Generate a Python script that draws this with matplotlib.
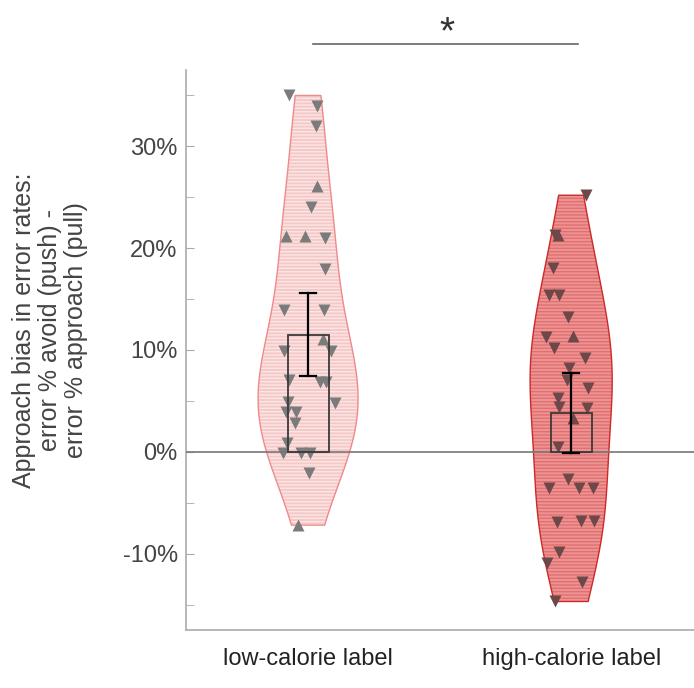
import matplotlib
matplotlib.use("Agg")
import matplotlib.pyplot as plt
from matplotlib.patches import Rectangle
import numpy as np

# categories and read-off values (percent)
categories = ["low-calorie label", "high-calorie label"]
positions = [1, 2]

low_vals = [35.0, 34.0, 32.0, 26.1, 24.0, 21.2, 21.2, 21.0, 18.0, 13.9, 13.9, 11.1, 9.9, 9.9,
            7.1, 6.9, 6.9, 4.8, 4.9, 3.9, 3.9, 2.8, 0.9, -0.1, -0.1, -0.1, -2.1, -7.2]
low_jit = [-0.072, 0.034, 0.030, 0.034, 0.011, -0.084, -0.011, 0.065, 0.065, -0.091, 0.061, 0.057,
           -0.091, 0.087, -0.072, 0.046, 0.068, 0.103, -0.076, -0.084, -0.046, -0.049, -0.080,
           -0.095, -0.027, 0.008, 0.004, -0.038]
low_mark = ["v", "v", "v", "^", "v", "^", "^", "v", "v", "v", "v", "^", "v", "v",
            "v", "v", "v", "v", "v", "v", "v", "v", "v", "v", "v", "v", "v", "^"]

high_vals = [25.2, 21.3, 21.3, 18.1, 15.4, 15.4, 13.2, 11.3, 11.4, 10.2, 9.2, 8.2, 7.1, 6.3, 5.3,
             4.4, 4.3, 3.3, 0.5, -2.7, -3.6, -3.6, -3.6, -6.9, -6.8, -6.8, -9.8, -10.9, -12.8, -14.7]
high_jit = [0.057, -0.061, -0.049, -0.068, -0.084, -0.046, -0.011, -0.095, 0.008, -0.065, 0.053,
            -0.008, -0.015, 0.065, -0.049, -0.046, 0.061, 0.008, -0.049, -0.011, -0.084, 0.030,
            0.084, -0.053, 0.038, 0.087, -0.046, -0.091, 0.042, -0.061]
high_mark = ["v", "v", "^", "v", "v", "v", "v", "v", "^", "v", "v", "v", "v", "v", "v",
             "v", "v", "^", "v", "v", "v", "v", "v", "v", "v", "v", "v", "v", "v", "v"]

means = [11.5, 3.8]
ci_low = [7.4, -0.1]
ci_high = [15.6, 7.7]

plt.rcParams['font.family'] = ['Liberation Sans', 'DejaVu Sans']


def kde(vals, grid, bw):
    v = np.asarray(vals)
    d = np.exp(-0.5 * ((grid[:, None] - v[None, :]) / bw) ** 2).sum(axis=1)
    return d / d.max()


def main():
    fig = plt.figure(figsize=(6.94, 6.88), dpi=100)
    ax = fig.add_axes([186 / 694, 58 / 688, 1 - 186 / 694, 560 / 688])

    groups = [(low_vals, low_jit, low_mark), (high_vals, high_jit, high_mark)]
    fills = ["#f6c9c9", "#ee9393"]
    stripes = ["#fbe6e6", "#e07070"]
    edges = ["#ef8a8a", "#cc2a2a"]
    mcols = ["#7b7b7b", "#6e4848"]
    widths = [0.19, 0.156]
    bws = [6.0, 6.0]

    for i, (vals, jit, mk) in enumerate(groups):
        c = positions[i]
        yy = np.linspace(min(vals), max(vals), 300)
        w = kde(vals, yy, bws[i]) * widths[i]
        ax.fill_betweenx(yy, c - w, c + w, facecolor=fills[i], edgecolor="none", zorder=1)
        ax.fill_betweenx(yy, c - w, c + w, facecolor="none", edgecolor=stripes[i],
                         hatch="-----", lw=0, zorder=1.5)
        ax.fill_betweenx(yy, c - w, c + w, facecolor="none", edgecolor=edges[i], lw=1.0, zorder=2)

        for v, j, m in zip(vals, jit, mk):
            ax.plot(c + j, v, marker=m, ms=8, color=mcols[i], mec="none", ls="none", zorder=3)

        ax.add_patch(Rectangle((c - 0.078, 0), 0.156, means[i], facecolor="none",
                               edgecolor="#3a3a3a", lw=1.3, zorder=4))
        ax.plot([c, c], [ci_low[i], ci_high[i]], color="black", lw=1.6, zorder=5)
        ax.plot([c - 0.03, c + 0.03], [ci_low[i]] * 2, color="black", lw=1.6, zorder=5)
        ax.plot([c - 0.03, c + 0.03], [ci_high[i]] * 2, color="black", lw=1.6, zorder=5)

    ax.axhline(0, color="#777777", lw=1.2, zorder=3.5)

    ax.set_xlim(0.536, 2.467)
    ax.set_ylim(-17.5, 37.5)
    ax.set_yticks([-10, 0, 10, 20, 30])
    ax.set_yticklabels([f"{t}%" for t in [-10, 0, 10, 20, 30]])
    ax.set_yticks([-15, -5, 5, 15, 25, 35], minor=True)
    ax.set_xticks(positions)
    ax.set_xticklabels(categories)

    for s in ["top", "right"]:
        ax.spines[s].set_visible(False)
    for s in ["left", "bottom"]:
        ax.spines[s].set_color("#aaaaaa")
        ax.spines[s].set_linewidth(1.2)
    ax.tick_params(axis="y", which="both", direction="in", length=6, color="#aaaaaa",
                   labelsize=17, labelcolor="#444444", pad=6)
    ax.tick_params(axis="x", length=0, labelsize=17, labelcolor="#222222", pad=13)

    fig.text(50 / 694, 0.52, "Approach bias in error rates:\nerror % avoid (push) -\nerror % approach (pull)",
             rotation=90, ha="center", va="center", multialignment="center",
             fontsize=18, linespacing=1.1, color="#444444")

    # significance bar
    ax.plot([1.019, 2.027], [40.1, 40.1], color="#666666", lw=1.2, clip_on=False)
    ax.text(1.528, 41.1, "*", ha="center", va="center", fontsize=28, color="#333333")

    plt.savefig("out.png", dpi=100)


if __name__ == "__main__":
    main()
